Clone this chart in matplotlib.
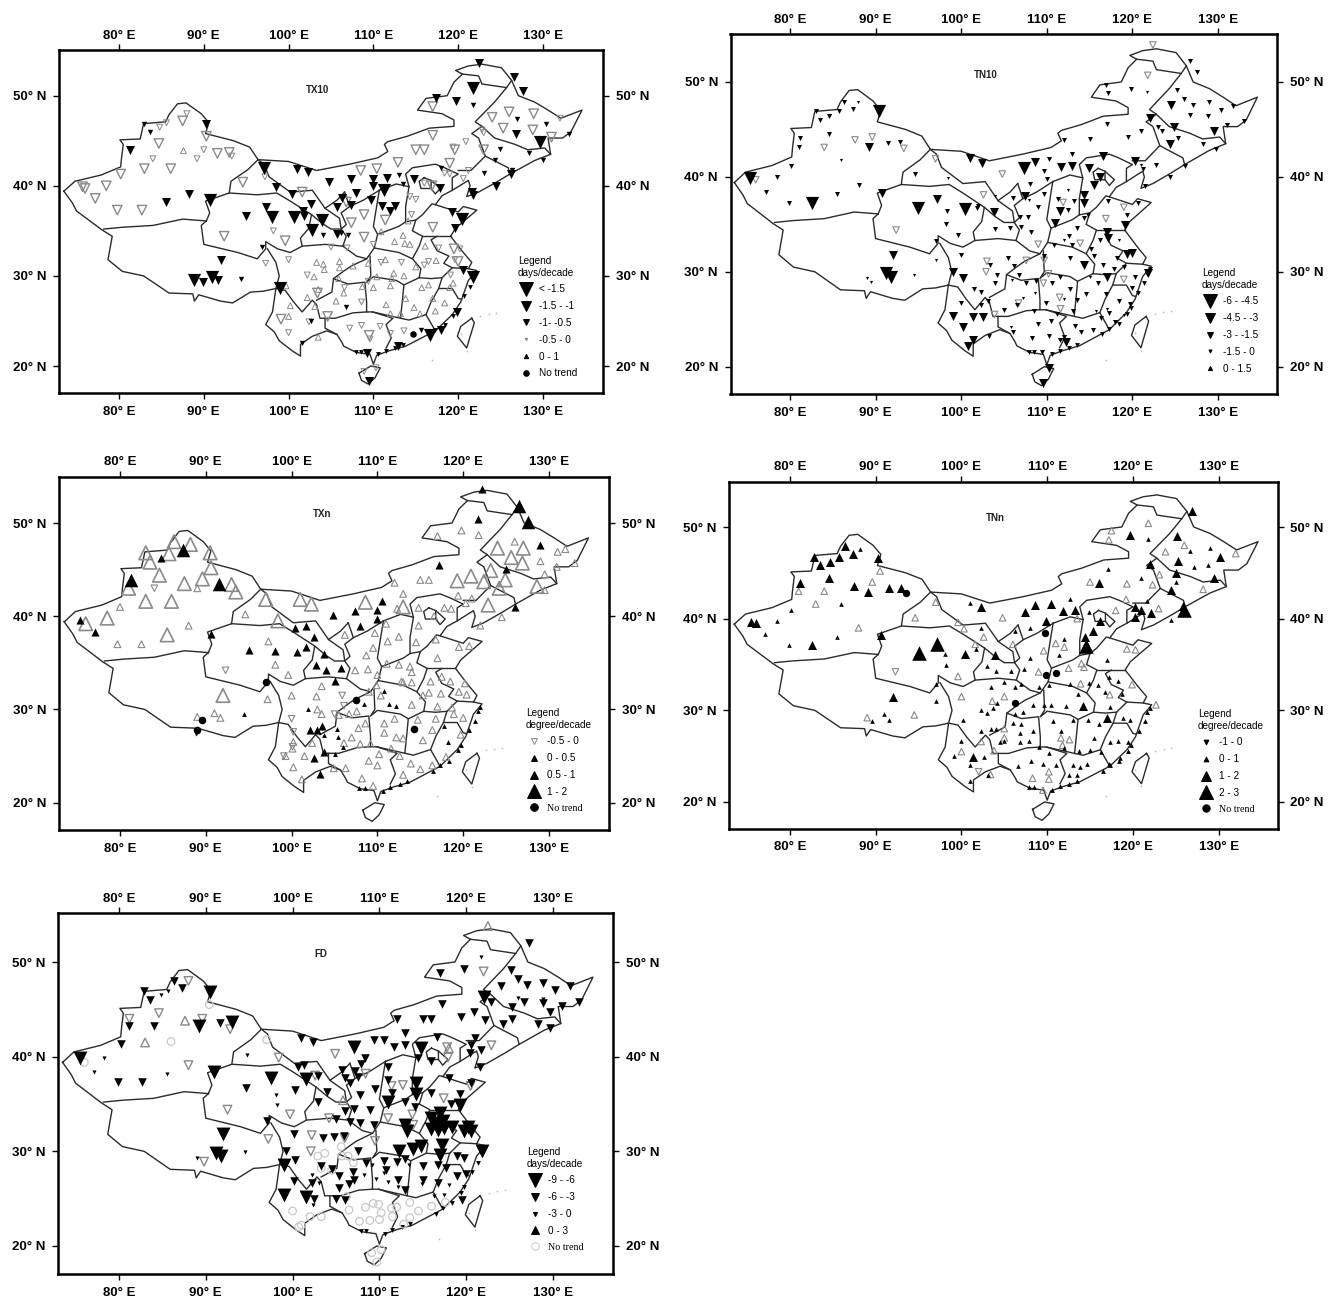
import matplotlib
matplotlib.use('Agg')
import matplotlib.pyplot as plt
from matplotlib.lines import Line2D

plt.rcParams['font.family'] = ['Liberation Sans', 'DejaVu Sans']

W, H = 1331, 1302

# national outline (lon, lat)
border = [(73.5,39.4),(74.8,40.5),(77.9,41.2),(80.2,42.1),(80.3,43.1),(80.5,44.6),(80.1,45.1),(82.5,45.2),(82.9,46.9),(85.5,47.1),(85.9,47.9),(86.9,49.1),(87.9,49.2),(89.7,48),(90.6,47),(90.2,45.8),(93.5,45),(95.4,44.3),(96.4,42.9),(100,42.7),(103.3,41.7),(107.2,42.4),(110.5,43.1),(111.7,43.8),(111.3,44.6),(111.7,44.9),(114,45.5),(116.6,46.4),(119.5,46.6),(119.5,47.3),(118.1,48),(115.2,48.4),(116.2,49.7),(118.7,50),(119.5,51.5),(120.5,52.4),(119.7,52.8),(121.2,53.3),(122.8,53.5),(125.1,53.1),(126.3,51.7),(127.1,50),(129,49.3),(130.6,48.4),(132.1,47.5),(134.6,48.4),(133.3,46),(132.3,45.3),(130.6,45.3),(130.9,43.5),(129,42.8),(126.1,41.3),(124.5,40.4),(122.4,39.3),(121,38.8),(121.4,40),(121.2,40.6),(119.3,39.5),(118.1,38.9),(117.3,37.9),(120,37.1),(120.6,37.7),(122.2,37.3),(119.7,35.3),(119.1,34.4),(120.6,32.6),(121.6,31.5),(121.2,30.8),(122.2,30.6),(121.2,29.5),(120.3,27.1),(119.3,25.7),(117.3,23.9),(113.8,22.2),(111.9,21.7),(110.4,21.2),(110,20.2),(109.6,21.3),(108,21.5),(106.5,22.2),(106.3,22.6),(105.7,23.5),(104.5,23.9),(102.8,23.3),(101.4,22.4),(101.4,21.1),(100.4,21.7),(98.9,22.8),(98.3,23.8),(97.3,24.6),(98.1,26),(98.5,28.6),(97,28.3),(95.5,28.2),(93.4,27),(92,27.2),(89.4,27.9),(88.9,27.2),(88.7,28),(85.9,28.1),(82.9,30),(80.4,30.5),(78.7,31.8),(79.2,34.4),(78,35.1),(75,37.2),(74.5,38.1),(73.5,39.4)]
hainan = [(108.3,19.2),(109.7,20),(110.8,19.8),(110.2,18.7),(109.4,18),(108.6,18.4),(108.3,19.2)]
taiwan = [(121.6,25.3),(121.9,24.8),(121,22),(119.9,23.3),(120.3,24.4),(121.6,25.3)]

# province lines (lon, lat)
provinces = [
    [(78.2,35.2),(80.4,35.4),(84,35.6),(87.5,36.3),(90.3,36.1)],
    [(90.3,36.1),(90.7,37),(90.2,38.3),(93,39.2),(96.3,39),(98.6,39.2),(100.2,38.3),(102.7,36.8),(102.4,35.3),(101.4,34.2),(101.6,33.3),(100.2,32.6),(98.7,33),(97.3,33.8),(97.3,33),(96.3,31.9),(94,32.6),(90,33.5),(89.7,35.6),(90.3,36.1)],
    [(93,39.2),(93.2,40.5),(95.2,41.8),(96.4,42.9)],
    [(96.4,42.9),(97.1,42.4),(97.7,41),(100.2,39.3),(102.8,39.5),(104.3,37.5),(105.7,38.4),(106.6,39.3)],
    [(106.6,39.3),(107.2,37.7),(106.2,37),(106.8,35.7),(106.2,35.2),(106,36.4),(104.3,37.5)],
    [(102.7,36.8),(104,35.8),(105,35.2),(106.2,35.2),(106.8,34.4),(106.4,33.3),(104.3,33.5),(101.6,33.3)],
    [(107.2,37.7),(108.8,38.4),(110.7,39.5)],
    [(110.7,39.5),(112.7,40.2),(114.2,39.9),(113.8,37.7),(113.8,36),(113,35.5),(110.5,34.6),(110,35.5),(110.5,38.4),(110.7,39.5)],
    [(110.5,34.6),(110.1,33.1),(113,32.6),(114.6,31.9),(115.4,33.3),(115.8,34.4),(114.6,35),(115,36.2),(113.8,36)],
    [(110.1,33.1),(109.2,31.9),(108,32.2),(106.4,33.3)],
    [(97.5,33),(98.5,31.5),(98.9,30),(98.5,28.6)],
    [(98.5,28.6),(99.6,28.4),(100.6,27.1),(101.6,26),(102.8,27.3),(103.3,26.8),(103.7,25.3),(104.3,25.3),(104.3,24.2),(105.7,23.5)],
    [(103.3,27.3),(105.1,28.2),(105.3,29.7),(107,29.1),(109,29.3),(109.2,27.1),(109.2,26),(107.6,25.9),(105.5,25.3),(104.3,25.3)],
    [(105.3,29.7),(106.6,30.6),(107.4,31.1),(109.2,31.9)],
    [(109.6,32.2),(109.7,30),(109.2,29.3),(110,29.9),(112.7,29.5),(113.6,29),(113.4,27.1),(113.2,25.3),(109.9,26),(109.2,26)],
    [(109.9,26),(112.3,25.3),(111.5,24.6),(112.1,23.1),(111.5,22)],
    [(113.6,29),(115.4,29.8),(116.8,29.7),(118.1,29.8),(117.7,28.6),(116.8,27.1),(116.2,25.7),(114.2,25.1),(113.2,25.3)],
    [(117.7,28.6),(119.3,28.6),(120,27.5),(120.4,27.4)],
    [(116.2,25.7),(117,24.4),(117.3,23.9)],
    [(118.1,29.8),(119.3,30.9),(121.2,30.8)],
    [(115.4,29.8),(115.6,30.8),(114.6,31.9)],
    [(115.8,34.4),(117.5,34.4),(119.1,34.4)],
    [(117.5,34.4),(116.8,34),(117.5,32.8),(118.9,32.2),(118.3,31.4),(119.3,30.9)],
    [(115,36.2),(115.8,36.8),(116.9,38),(117.3,37.9)],
    [(114.2,39.9),(113.8,41.3),(114.6,42),(117.3,42.4),(118.4,42),(120,41.3),(119.3,40.9),(119.3,39.5)],
    [(116,40.9),(116.8,40.6),(116.8,39.7),(115.6,39.7),(115.4,40.5),(116,40.9)],
    [(116.8,40.6),(117.9,39.7),(117.3,39.1),(116.8,39.7)],
    [(120,41.7),(121.5,41.7),(123.2,43.3),(123.6,43.1),(125.9,42),(126.1,41.3)],
    [(123.2,43.3),(122.4,45.3),(121.6,45.8),(122.8,46.6),(122,47.1),(124.3,49.3),(125.7,50.9),(122.8,51.3),(122.4,52.2),(120.5,52.4)],
    [(125.7,50.9),(126.3,51.7)],
    [(122.8,46.6),(124.3,45.3),(126.7,44.6),(128.2,44),(130.2,44.2),(130.9,43.5)],
]

# station positions per class (lon, lat)
coast_stn = [(122,30.3),(121.7,29.8),(121.4,28.8),(120.7,27.8),(119.8,26.2),(119.4,25.6),(118.4,24.5),(117.3,24),(116.5,23.4),(113.5,22.3),(112.6,22),(111.5,21.7),(110.6,21.3),(108.5,21.6),(107.9,21.6)]

tx10_xl = [(121.7,50.8),(97.1,42),(90.7,38.4),(98,36.5),(100.6,36.5),(103.9,36.2),(102.8,35.1),(111.2,39.5),(129.6,44.9),(88.9,29.5),(91,29.9),(99,28.7),(116.7,23.4),(121.8,29.9),(120.4,36.3)]
tx10_l = [(117.4,49.7),(119.7,49.4),(122.4,53.6),(127.7,50.5),(126.6,52.1),(90.3,46.9),(81.3,44),(85.5,38.2),(88.2,39.1),(95,36.7),(97.3,37.6),(98.5,39.9),(100.4,39.1),(101,41.9),(102.3,41.5),(104.8,40.4),(107.4,40.8),(109.9,40.8),(110,40),(111.6,40.9),(114.8,40.8),(117.9,39.8),(108,39.2),(106.3,38.6),(105.7,37.6),(107.4,37.9),(109.7,38.4),(111,37.8),(112,37.2),(112.6,37.8),(101.7,37.2),(101.8,36.6),(102.6,38),(105.7,34.7),(89.9,29.3),(91.7,29.5),(92,31.8),(119.6,35.3),(119.3,37.1),(121.6,39.3),(121.7,39),(124.5,40),(126.2,41.3),(109.3,21.4),(109.5,18.3),(126.8,45.7),(120.6,30.6),(118,24),(119.8,26),(112.9,22.2)]
tx10_m = [(82.9,46.9),(83.6,46),(121.7,49),(126.9,47.4),(130.3,46.9),(133.1,45.7),(124.9,44.1),(128.3,43.6),(130,42.9),(123,41.4),(113,41.2),(94.4,29.7),(104,34.5),(107,34.5),(96.9,33.2),(102.7,25),(101.6,22.6),(106.8,26.6),(124.3,42.9),(126.3,41.8),(113.5,40.2),(106.2,34.8),(118,42),(115.6,24)]
tx10_gray_l = [(75.7,39.9),(76,39.7),(78.5,40),(77.2,38.6),(80.2,41.3),(79.8,37.3),(82.7,37.3),(83,41.9),(86.1,41.9),(84.7,44.7),(87.5,47.2),(90.3,45.5),(91.6,43.6),(93,43.7),(94.6,40.4),(92.4,34.4),(99.6,33.9),(101.6,39.3),(108.5,41.7),(110.4,41.9),(112.9,42.6),(115,44),(116,44),(117,45.6),(117,48.8),(124,47.6),(125.3,46.4),(126,48.2),(128.9,48),(128.8,46.2),(131,45.4),(108.9,36.8),(111.4,36.2),(106.8,38.2),(108.9,34.3),(117,35.4),(116.9,40),(119,42.5),(119.5,33),(120,31.6),(104.6,25.5),(109.5,23.4),(99.1,25.2),(103.4,28.1),(107.4,35.9),(123,44),(119.6,44)]
tx10_gray_s = [(84.8,46.5),(85.6,47),(88,48),(89.2,43),(84,43),(90,44),(93.3,43.3),(98.2,35),(97.3,31.4),(100,31.8),(102.2,30.1),(105,33.2),(106.9,33.1),(110,33.5),(110.9,31.5),(113.3,31.5),(116.5,31.6),(116,31.2),(117.7,33.1),(119.6,31.8),(120.2,33),(119.1,30.1),(114.5,36.8),(115,38.5),(114.3,38.8),(119.4,44.3),(120.9,44.9),(123,45.9),(122.8,46.2),(132,47.5),(119,41.3),(121.2,41.7),(120.6,40.8),(118.4,41.4),(116,40.3),(109.6,23),(110.8,24.4),(112,23.6),(113.6,23.9),(102.4,24.9),(100,23.7),(108.6,24.5),(107.2,24.2),(108.9,19.4),(110.3,19.8),(97.2,41),(106.6,28.7),(108.6,27.1),(109.4,29.4)]
tx10_gray_up = [(87.6,43.9),(99.7,28.9),(100.2,26.7),(100,25.5),(103.3,31.5),(104.1,31.3),(106,31.6),(106,30.9),(103,29.9),(103.5,28.5),(102.2,27.6),(103.1,26.6),(103.5,23.2),(105.6,27.2),(106.5,28.1),(108.7,28.8),(110,28.7),(112,28.9),(111.5,26.8),(112,25.8),(113.2,25.8),(114.8,26.5),(115.5,25.8),(117.3,26.1),(117,27.5),(116.5,29),(118.4,27),(119,28.7),(119.4,29.2),(113.7,33.6),(112.5,33.8),(110.9,34.9),(111.4,31.8),(112.4,30.3),(113.6,30),(115,31),(114.1,36.1),(113.5,34.5),(109.4,31.4),(104.2,30.7),(105.9,29.7),(107.6,31.1),(110.4,29.9),(112.2,29.7),(114.3,33.5),(116.1,33.3),(117.4,31.7),(115.7,28.7),(113.8,27.5)]
tx10_dot = [(114.7,23.6)]

tn10_xl = [(107.3,40.9),(94.9,36.7),(82.6,37.3),(100.5,36.6),(90.4,46.9),(75.3,39.9),(91.2,29.9),(91.8,29.4)]
tn10_l = [(101,42),(102.4,41.5),(108.6,41.6),(111.7,41),(113,41.2),(114.9,40.9),(116.6,42.2),(120.3,41.7),(116.2,40),(115.5,39.1),(114.4,38.1),(114.4,37.3),(111.6,36.4),(111,35.1),(124.5,47.6),(122,46.2),(124.9,45.3),(124.4,43.5),(129.5,44.8),(97.2,37.7),(90.8,38.3),(92,31.8),(89.2,43.1),(103.8,36.3),(107.5,38),(99,30),(100.2,29.3),(99.1,25.3),(101.4,25.2),(102.6,25.2),(100.2,24.2),(101.4,22.8),(100.8,22.2),(114.3,30.7),(117,29.5),(117,34.2),(119.1,34.9),(120,32),(121.8,29.9),(109.5,18.3),(110.3,19.9),(112.3,22.6),(119.4,31.9),(117.2,33.6)]
tn10_m = [(83,46.9),(83.5,46),(84.6,46.4),(85.7,46.9),(86.3,47.9),(87.4,47.2),(81.2,44.1),(81,43.2),(84.6,44.5),(91.5,43.6),(92.9,43.7),(80.1,41.2),(78.5,40),(77.2,38.4),(79.9,37.3),(85.5,38.2),(88.1,39.1),(94.6,40.3),(116.9,49.7),(117.2,48.8),(119.8,49.3),(126.7,52.2),(127.5,51.1),(125.2,49.2),(126,48.2),(127.1,47.6),(129,47.9),(130.3,47),(131.8,47.5),(133,45.9),(126.7,46.5),(128.8,46.4),(131,45.5),(123,45.3),(125.3,44.1),(128.2,43.5),(129.8,42.9),(126.2,41.2),(122.8,41.3),(121.2,40.8),(124.4,40),(121.5,39),(117,45.6),(115,44),(119.5,44.2),(121,44.8),(123.4,44.8),(112,43.9),(112.9,42.4),(110.3,41.9),(98.3,36.4),(98.2,35),(99.6,33.9),(97,33.2),(102,36.9),(101.8,36.7),(104,34.5),(105.7,34.6),(106,37.8),(107,34.7),(108.1,34.2),(109,36.8),(109.7,38.2),(108,39.2),(110,39.8),(109.7,40.6),(106.9,35.8),(107.8,35.8),(111.3,37.7),(112.5,36.5),(113.2,37.5),(112.6,33.8),(113.5,34.6),(114.3,35.7),(114.8,36),(117.2,37.5),(120.6,37.2),(119.4,36),(116.2,33.3),(115.2,32.4),(113,32.8),(110.8,32.8),(109.7,31.7),(112.7,31.5),(115.5,31.7),(116.6,30.7),(118.2,31.5),(119,30.5),(120.3,29.4),(120,28.3),(119.7,26.6),(118.4,26.9),(117.3,25.7),(118,24.7),(116.3,25.1),(115.4,23.9),(114,23.7),(113.3,24.3),(112,23.1),(110.5,24.8),(109,24.5),(108.3,23),(106,23.7),(108.5,25.9),(106.5,26.5),(105,26),(103.1,26.9),(104,28.8),(101.5,28.2),(102.3,27.9),(100,26.7),(102.3,26.5),(103.3,23.2),(100,31.8),(103.4,30.7),(104.2,29.7),(106.2,30.6),(106.8,29.7),(107.6,28.8),(108.7,29),(110.6,28.8),(111.6,29.4),(112.7,28.2),(113.5,27),(114.6,27.7),(116,28.8),(116.9,27.7),(117.9,30.3),(113.1,25.9),(109.9,26.7),(111.2,25.6),(109.4,21.6),(110.2,23.2),(111.6,22.8),(105.5,31.5)]
tn10_s = [(86,41.8),(84.7,46.5),(88,47.9),(94.5,29.7),(89,29.3),(89.5,28.9),(121.7,48.9),(97.1,31.2),(98.4,39.9),(104,38),(107.9,37.6),(112.5,38.6),(105.9,29.1),(107.2,27.2),(108.6,27.8),(112,27.1),(117,26.1),(119,25.5),(121,41.3),(112,33.3),(118.4,33.3),(115,29.5),(115.7,25.9),(105.8,24.2)]
tn10_gray = [(76,39.7),(87.6,43.9),(89.6,44.2),(84,43.1),(93.3,43),(97,41.9),(104.8,40.3),(92.4,34.4),(102.6,38.1),(111.9,37.3),(109,32.9),(113.9,33),(107.6,31.2),(109.7,31.2),(103,31.1),(102.9,30),(106.7,26.7),(111.5,27.3),(111.6,26.1),(103.9,25.5),(119,36.8),(116.9,35.6),(119,29.2),(122.4,53.9),(121.8,50.7),(109.6,28.8),(110.2,29.8)]

txn_xl = [(81.3,43.9),(87.3,47.1),(91.5,43.5),(126.5,51.8),(127.5,50.1)]
txn_l = [(75.3,39.6),(77.1,38.3),(84.8,46.2),(90.6,38.1),(95,36.4),(98.1,36.3),(100.6,36.2),(101.7,36.7),(102.6,37.8),(103.8,36),(102.9,34.8),(104,34.2),(105.7,34.4),(105,33.1),(107.4,40.6),(108,39),(109.9,40.7),(110.5,41.6),(109.9,39.7),(104.8,40.1),(100.4,38.7),(101.7,39),(117.2,45.5),(122.2,53.6),(121.7,50.4),(129,47.6),(125,45.1),(126,41),(103.5,28.2),(102.2,27.8),(103,27.8),(102.6,24.8),(103.8,25.4),(103.3,23.1)]
txn_m = [(94.4,29.5),(101.9,30),(110.8,32),(111.4,30.6),(112.2,30.4),(108.4,30.6),(105.4,27.1),(103.8,27.3),(106,26),(105,25.2),(118.2,26.5),(117.8,28.2),(105.3,27.9)]
txn_gray_xl = [(83,46.8),(83.5,45.8),(85.7,46.7),(86.3,48),(88.2,47.7),(90.5,46.8),(90.6,45.2),(84.6,44.4),(87.5,43.5),(89.6,44),(93,43.4),(93.5,42.6),(81,43),(83,41.6),(86,41.6),(78.5,39.8),(76,39.2),(85.5,38),(92,31.5),(97,41.8),(101,41.8),(102.3,41.3),(108.6,41.5),(113,41),(119.3,43.8),(120.9,44.3),(122.4,43.7),(123.2,44.9),(124.2,43),(124.9,43.9),(128.6,43.2),(124,47.3),(125.6,46.3),(127,47.3),(126.9,45.7),(122.9,41.2),(98.4,39.5)]
txn_gray_up = [(80,41),(79.7,37),(82.5,37),(88,39),(89,43),(94.6,40.2),(97.3,37.3),(98.1,34.8),(99.6,33.7),(117,48.6),(119.8,49.2),(121.8,48.7),(126,48),(129,45.9),(131,46.9),(131.9,47.2),(133,45.7),(130.9,45.3),(129.5,44.5),(129.5,42.8),(115,43.9),(116,43.9),(112,43.6),(113,42.4),(119.4,42.2),(121,41.9),(120.3,41.4),(118.6,40.8),(117.8,40.9),(116.6,40),(114.8,40.9),(112.3,40.8),(124.5,39.9),(122,39),(111,39.2),(106.2,38),(109.7,38.2),(111.2,37.3),(112.5,37.8),(114.8,39),(114.5,37.2),(116.8,37.5),(119.5,36.7),(120.7,36.8),(117,35.5),(108.7,35.8),(109.5,36.6),(107.4,34.2),(108.9,34.3),(110,33.7),(111.1,34.9),(112.5,34.8),(113.8,34.6),(114,34),(113,32.9),(114,32.9),(116.2,33),(117.5,33.5),(118.5,33),(120.2,32.8),(119.5,31.9),(120.4,31.6),(116,31.8),(117.4,31.7),(118.7,30.2),(120,29.1),(119.7,27.3),(118.9,29.5),(117,30.3),(116.8,29),(116.4,27.8),(115.3,26.7),(114.7,28.9),(114,30.5),(112,29),(110.8,28.5),(110.8,27.5),(112.2,27),(113,26.9),(111.6,25.8),(110.2,25.2),(109,24.5),(110,24),(112.6,25),(113.9,24.2),(113,23),(115,23.6),(116.4,24),(118,24.9),(109.5,21.8),(108.2,22.6),(106.3,23.7),(104.9,23.7),(100.2,23.8),(99.3,25),(101.5,25),(101.2,22.5),(102.4,26.4),(100.1,25.8),(100.2,26.5),(106.1,26.4),(107,27),(108,26.3),(109.2,26.3),(107.8,28),(108.6,28.5),(105.5,29.4),(106.7,29.5),(107.6,29.8),(103.5,29.5),(103,30),(102.9,31.4),(103.5,32.5),(100,31.5),(97.2,31.1),(89,29.2),(91,29.6),(91.7,29.1),(109.9,32.6),(109,31.9),(110.4,31.5),(112.8,33),(115.3,31.5)]
txn_gray_down = [(92.3,34.2),(84,43),(100,29),(100.2,27.6),(99.1,25),(100.1,26),(105,29.5),(105.9,31.5),(106.1,30.4)]
txn_dot = [(97,32.9),(89.5,28.9),(89,27.8),(107.5,31),(114.3,27.9)]

tnn_xl = [(95,36.3),(97.2,37.2),(114.5,37),(126,41)]
tnn_l = [(75.4,39.6),(76,39.5),(82.8,46.7),(83.5,45.9),(84.7,46.2),(85.7,46.7),(86.4,47.9),(87.3,47.1),(90.3,46.6),(81.2,43.9),(84.6,44.4),(87.5,43.6),(89.1,42.9),(91.5,43.4),(92.9,43.4),(90.6,38.2),(82.6,37.1),(100.4,36.2),(103.9,36),(119.7,49.1),(125.2,49),(126.9,51.8),(125.3,46.3),(125,45),(122,46),(124.4,43.1),(129.5,44.4),(130.2,46.7),(116.1,43.9),(102.3,41.3),(107.4,40.7),(108.6,41.5),(110.4,41.6),(109.9,39.8),(111.8,40.8),(113.2,40.9),(120.3,41.3),(120.2,40.2),(121,40.9),(122.1,40.6),(116.2,39.8),(115.4,38.7),(114.4,38),(125.8,41.4),(92,31.5),(101.4,24.9),(114.2,30.5),(117,29.2)]
tnn_m = [(77.1,38.3),(78.5,39.8),(79.9,37.1),(85.5,38),(86,41.6),(80.1,41),(88.2,47.6),(98.1,36.1),(98.2,34.9),(97,32.9),(97,31),(102.3,39),(101,41.7),(108,39),(106.3,38.7),(112.7,42.2),(117.1,45.4),(121,44.4),(121.8,48.7),(126.7,47.4),(129,47.7),(128.8,45.9),(127.1,45.6),(125,44),(121.7,41.9),(124.5,39.9),(114.9,40.7),(112,37.8),(111.4,36),(101.7,36.7),(104,34.3),(105.8,34.3),(103,34.8),(105,33.1),(106.3,32.6),(107,32.9),(103.5,32.5),(108,35.7),(107.3,34.5),(109,32.6),(110.2,32.8),(112.7,32.9),(113.6,31.8),(114.9,33),(115.9,32.8),(117,35.5),(117.2,33.6),(118.3,33.2),(118.7,31.8),(116.7,32),(117.3,30.4),(119.7,29),(118.8,29.2),(116,28.5),(115.5,27),(116.3,25.5),(117.3,26.5),(118.3,26.7),(119.4,26.5),(118.5,24.8),(117.2,24.1),(114.7,24.2),(113.8,23.8),(113,24),(112.6,22.9),(113.5,23),(111,24),(109.5,24.2),(108.1,24.5),(106.6,23.9),(110.2,25.3),(112,25.9),(113.7,25.6),(115,25.7),(114.8,28.9),(113,28.9),(111.6,27.8),(110.7,28.8),(109.6,30.6),(110.5,30.6),(112.2,30.5),(108.4,30.6),(107.2,29.8),(106.3,29.6),(106,28.6),(107,28.5),(106.8,27.5),(106.8,26.5),(107.9,26.7),(108.3,27.7),(109,26),(105,26.7),(104,28),(103.5,28),(102.3,27.8),(100,26.7),(100.2,29),(102.3,30),(103,29.7),(103.7,30.3),(104.2,30.8),(101,24),(102.6,24.9),(99.1,25),(101,22.3),(103.1,23),(104.5,26.5),(91,29.6),(91.6,29),(89.6,28.8)]
tnn_gray = [(83,41.6),(84,43),(81,43),(89.6,44),(88,39),(90.5,45.2),(94.6,40.1),(97,41.8),(99.6,39.6),(100.3,38.9),(102.6,38),(101.6,37.2),(104.8,40.1),(106,37.2),(109.6,36.5),(111,37.3),(112,36.9),(113.5,40),(115,44),(119.3,43.8),(122.3,43.7),(123.1,44.8),(123,41.1),(128.2,43.2),(117.2,48.6),(117.5,49.6),(121.8,50.4),(126,48),(123.8,47.3),(132,47.1),(119.2,42.1),(118,40.9),(119.3,36.7),(120.3,36.6),(119.9,32.8),(113.9,32.9),(114,35.1),(114.3,34.7),(112.5,34.6),(109,34.2),(117.3,31.7),(99.6,33.7),(100,31.5),(105,31.5),(103.6,31),(89,29.2),(94.5,29.5),(102.3,26.6),(100,25.5),(103.8,25.6),(103.4,23),(108.3,22.6),(110.2,23.3),(110.2,22.5),(111.6,27),(112.6,26.8),(111.8,26.2),(105,28),(105,27),(109.5,21.3),(122.7,30.6)]
tnn_gray_down = [(92.3,34.2),(102,23.3)]
tnn_dot = [(93.5,42.8),(109.8,38.4),(109.9,33.9),(111,34.1),(106.2,30.8)]

fd_xl = [(75.5,39.9),(90.5,46.8),(89.2,43.2),(93,43.7),(92,31.8),(91.2,29.8),(91.8,29.5),(99,28.6),(99,25.4),(101.5,25.2),(107.1,41),(114.8,40.9),(101.6,37.6),(97.5,37.7),(90.9,38.4),(122,46.3),(121.8,30),(111,35.2),(114.2,37.2),(114.2,36.1),(113,32.8),(113.2,32.1),(114.8,30.6),(113.9,30.2),(112.3,30),(116,33.5),(116.5,33),(117,34),(117.3,33.2),(117.5,32.5),(116.8,32.3),(116,32.4),(117.2,30.7),(117,29.6),(119.3,34.9),(120.2,32.6),(120.5,32.1),(119.8,32.1),(118.4,32.6)]
fd_l = [(82.9,46.9),(83.6,46),(86.3,48),(87.3,47.3),(81.1,43.2),(84,43.2),(80.2,41.3),(79.9,37.3),(82.7,37.3),(91.6,43.6),(94.6,36.7),(100.3,36.5),(104,36.3),(101,42),(102.3,41.6),(107.9,39.2),(105.7,38.6),(107.5,37.8),(109.4,41.8),(110.5,41.8),(111.7,41),(112.9,41.2),(113,42.5),(112,44),(115,44),(116,44),(117.2,45.6),(117,48.8),(119.7,49.3),(127.2,52),(125.2,49.2),(126,48.2),(127,47.6),(128.9,47.8),(130.2,47),(132,47.5),(133,45.8),(124,47.5),(122.8,45.8),(125.3,45.2),(125.3,44),(126.7,45.8),(128.9,45.7),(131,45.4),(129.6,44.7),(128.3,43.5),(129.7,43),(124.2,43.4),(122.2,43.9),(119.4,44.2),(120.9,44.7),(116.6,42.1),(121,42),(120.6,41.2),(120.4,40.4),(121.7,40.7),(121.6,38.9),(116,39.5),(114.5,39.9),(111,38.9),(108.3,39.9),(107.2,38.5),(106,37.7),(102.9,38),(100.6,38.9),(101.3,39.1),(97,33.2),(100.2,31.8),(99.2,30),(100.3,29.1),(100.2,26.9),(102.2,26.7),(102.5,25),(104.5,28.1),(103.3,28.4),(105.4,27.4),(106.5,26.5),(105.4,26.1),(107,27.8),(107.1,27),(108.5,28.8),(107.5,30),(105.9,31.6),(104.8,31.5),(103.5,31.4),(102.9,35.2),(105,33.4),(106,34.3),(107.1,34.5),(106.6,33.1),(107.8,33),(109.4,32.8),(108.9,34.4),(109.5,36.6),(107.8,36),(106.6,37.2),(111,37.5),(111.5,36.2),(112.9,35.2),(114.1,34.7),(116,36.2),(118,37.7),(120.6,37.2),(119.3,36.1),(118.2,35),(118.9,29.5),(119.8,29.3),(120,27.6),(118.9,27.4),(117.7,28.2),(116.8,28.6),(115,28.5),(115,27),(116.8,26.7),(112,28.9),(113,29.2),(110.5,29),(110.8,28),(112.2,27),(113,25.9),(105,25),(106,24.9),(119.5,24.9)]
fd_m = [(78.3,39.9),(77.1,38.4),(85.5,38.2),(84.8,46.5),(85.7,46.9),(94.5,29.9),(89,29.3),(98.1,36),(98.2,34.9),(94.8,40.2),(121.7,50.5),(126,46.2),(128.9,46.1),(103,26.7),(102.4,24.3),(108.2,27.5),(110.5,27.7),(112.1,26.2),(113.4,28.6),(114.9,26.5),(116.3,25.3),(117.4,25.4),(118,26.4),(109.6,27.1),(111,26.8),(109.2,28.6),(102.2,27.5)]
fd_gray_l = [(81.2,44),(84.6,44.6),(89.6,44),(88,48),(88,39.1),(92.5,34.4),(99.7,33.9),(98.4,39.9),(104.9,40.3),(92.8,42.9),(102.6,38),(111.4,36.9),(113.8,33.9),(111,33.5),(108.4,38.2),(122,49),(117.4,35.6),(120.5,36.9),(122.9,41.2),(117.8,41),(117.9,39.9),(104.2,33.5),(102.2,31.7),(102.1,30),(89.8,28.9),(97.2,31.3),(106,31.4),(109.5,31.1),(112.7,37),(113.9,32.8)]
fd_gray_up = [(83,41.5),(87.6,43.8),(122.5,53.8),(118,40.9),(105.8,35.4)]
fd_no_trend = [(90.4,45.5),(86,41.6),(97,41.8),(76,39.4),(100,23.7),(101,22.2),(102,23.1),(103.3,23.1),(100.7,22),(106.5,23.8),(107.7,22.6),(108.4,24.1),(109.3,24.5),(109.9,24.4),(110.2,23.5),(110,22.8),(108.9,22.7),(111.5,23.1),(112,24.1),(113.5,24.6),(114.5,23.7),(116,24.2),(117.6,24.6),(113.5,23),(112.8,22.3),(103.7,29.8),(102.9,29.5),(103.3,28.2),(104.5,28),(105.7,29.5),(106.4,29.5),(107,28.8),(105.6,30.5),(106.2,25.2),(109.1,19.3),(109.7,18.3),(110.2,19.6),(111.4,24)]

# pixel boxes and tick pixels of each panel: left, right, top, bottom, x80, x130, y50, y20
boxes = {
    'TX10': (59, 603, 50, 393, 119, 543, 95.7, 366),
    'TN10': (730.5, 1277, 34, 394, 790, 1218, 82, 366.7),
    'TXn': (59, 609, 476.7, 830, 120, 549, 523, 802.7),
    'TNn': (729, 1278, 481.7, 829, 790, 1218.6, 527, 802),
    'FD': (58, 613, 913, 1274, 119, 553, 962, 1246),
}

k = 'black'
g = '#8a8a8a'
# marker, size, face, edge, line width
panels = {
    'TX10': dict(title=(103.4, 50.6), coast='v', groups=[
        (tx10_gray_l, 'v', 46, 'none', g, 1.0), (tx10_gray_s, 'v', 18, 'none', g, 0.7), (tx10_gray_up, '^', 18, 'none', g, 0.7),
        (tx10_xl, 'v', 90, k, k, 0), (tx10_l, 'v', 42, k, k, 0), (tx10_m, 'v', 15, k, k, 0), (tx10_dot, 'o', 22, k, k, 0)],
        legend=(518, 256, 'days/decade', [('v', 90, k, '< -1.5'), ('v', 42, k, '-1.5 - -1'), ('v', 15, k, '-1- -0.5'), ('v', 3, g, '-0.5 - 0'), ('^', 10, k, '0 - 1'), ('o', 16, k, 'No trend')])),
    'TN10': dict(title=(102.9, 50.7), coast='v', groups=[
        (tn10_gray, 'v', 22, 'none', g, 0.8), (tn10_xl, 'v', 90, k, k, 0), (tn10_l, 'v', 42, k, k, 0), (tn10_m, 'v', 13, k, k, 0), (tn10_s, 'v', 5, k, k, 0)],
        legend=(1202, 268, 'days/decade', [('v', 90, k, '-6 - -4.5'), ('v', 42, k, '-4.5 - -3'), ('v', 15, k, '-3 - -1.5'), ('v', 5, k, '-1.5 - 0'), ('^', 9, k, '0 - 1.5')])),
    'TXn': dict(title=(103.6, 51), coast='^', groups=[
        (txn_gray_xl, '^', 95, 'none', g, 1.2), (txn_gray_up, '^', 24, 'none', g, 0.8), (txn_gray_down, 'v', 22, 'none', g, 0.8),
        (txn_xl, '^', 95, k, k, 0), (txn_l, '^', 34, k, k, 0), (txn_m, '^', 12, k, k, 0), (txn_dot, 'o', 30, k, k, 0)],
        legend=(526, 708, 'degree/decade', [('v', 18, 'none', '-0.5 - 0'), ('^', 14, k, '0 - 0.5'), ('^', 34, k, '0.5 - 1'), ('^', 95, k, '1 - 2'), ('o', 30, k, 'No trend')])),
    'TNn': dict(title=(104, 51), coast='^', groups=[
        (tnn_gray, '^', 22, 'none', g, 0.8), (tnn_gray_down, 'v', 22, 'none', g, 0.8),
        (tnn_xl, '^', 110, k, k, 0), (tnn_l, '^', 42, k, k, 0), (tnn_m, '^', 11, k, k, 0), (tnn_dot, 'o', 28, k, k, 0)],
        legend=(1198, 709, 'degree/decade', [('v', 12, k, '-1 - 0'), ('^', 12, k, '0 - 1'), ('^', 42, k, '1 - 2'), ('^', 110, k, '2 - 3'), ('o', 28, k, 'No trend')])),
    'FD': dict(title=(103.2, 50.8), coast='v', groups=[
        (fd_no_trend, 'o', 30, 'none', '#c8c8c8', 0.9), (fd_gray_l, 'v', 38, 'none', g, 1.0), (fd_gray_up, '^', 38, 'none', g, 1.0),
        (fd_xl, 'v', 100, k, k, 0), (fd_l, 'v', 38, k, k, 0), (fd_m, 'v', 9, k, k, 0)],
        legend=(527, 1147, 'days/decade', [('v', 100, k, '-9 - -6'), ('v', 38, k, '-6 - -3'), ('v', 9, k, '-3 - 0'), ('^', 38, k, '0 - 3'), ('o', 30, 'none', 'No trend')])),
}

sea_dots = [(122.6,25.6),(123.6,25.8),(124.5,25.9),(116.9,20.7),(120.3,23.5),(121,21.7)]
xticks = [80, 90, 100, 110, 120, 130]
yticks = [20, 30, 40, 50]

fig = plt.figure(figsize=(W / 100, H / 100), dpi=100)

for name, p in panels.items():
    left, right, top, bottom, x80, x130, y50, y20 = boxes[name]
    ax = fig.add_axes([left / W, 1 - bottom / H, (right - left) / W, (bottom - top) / H])
    dx = (x130 - x80) / 50
    dy = (y20 - y50) / 30
    ax.set_xlim(80 + (left - x80) / dx, 80 + (right - x80) / dx)
    ax.set_ylim(20 - (bottom - y20) / dy, 20 + (y20 - top) / dy)

    # map lines
    for line in [border, hainan, taiwan] + provinces:
        ax.plot([q[0] for q in line], [q[1] for q in line], color='#2b2b2b', lw=1.0, solid_joinstyle='round', zorder=1)
    ax.scatter([q[0] for q in sea_dots], [q[1] for q in sea_dots], s=1.5, color='#bbbbbb', lw=0, zorder=1)

    # stations
    ax.scatter([q[0] for q in coast_stn], [q[1] for q in coast_stn], marker=p['coast'], s=12, color=k, lw=0, zorder=2)
    for pts, marker, size, face, edge, lw in p['groups']:
        ax.scatter([q[0] for q in pts], [q[1] for q in pts], marker=marker, s=size,
                   facecolors=face, edgecolors=edge, linewidths=lw, zorder=3)

    ax.text(p['title'][0], p['title'][1], name, fontsize=7, fontweight='bold', ha='center', va='center', color='#222222')

    ax.set_xticks(xticks)
    ax.set_yticks(yticks)
    ax.set_xticklabels([f'{t}° E' for t in xticks])
    ax.set_yticklabels([f'{t}° N' for t in yticks])
    ax.tick_params(right=True, labelright=True, length=4, width=1.0, pad=5)
    sec = ax.secondary_xaxis('top')
    sec.set_xticks(xticks)
    sec.set_xticklabels([f'{t}° E' for t in xticks])
    sec.tick_params(length=4, width=1.0, pad=2)
    for lab in ax.get_xticklabels() + ax.get_yticklabels() + ax.yaxis.get_ticklabels(which='major') + sec.get_xticklabels():
        lab.set_fontsize(9.5)
        lab.set_fontweight('bold')
    for tick in ax.yaxis.get_major_ticks():
        tick.label2.set_fontsize(9.5)
        tick.label2.set_fontweight('bold')
    for sp in ax.spines.values():
        sp.set_linewidth(1.8)
    sec.spines['top'].set_visible(False)

    # legend
    lx, ly, unit, entries = p['legend']
    handles = []
    for marker, size, face, label in entries:
        if face == 'none':
            edge = g if name == 'TXn' else '#c8c8c8'
        else:
            edge = face
        handles.append(Line2D([], [], ls='', marker=marker, markersize=size ** 0.5,
                              markerfacecolor=face, markeredgecolor=edge, markeredgewidth=0.7, label=label))
    leg = ax.legend(handles=handles, title='Legend\n' + unit, loc='upper left', bbox_to_anchor=(lx / W, 1 - ly / H),
                    bbox_transform=fig.transFigure, frameon=False, fontsize=7.2, title_fontsize=7.2, alignment='left',
                    borderpad=0, borderaxespad=0, labelspacing=0.68, handletextpad=0.5, handlelength=1.6)
    leg.get_title().set_linespacing(1.2)
    if name in ('TXn', 'TNn', 'FD'):
        leg.get_texts()[-1].set_family(['Liberation Serif'])

fig.savefig('out.png', dpi=100)
